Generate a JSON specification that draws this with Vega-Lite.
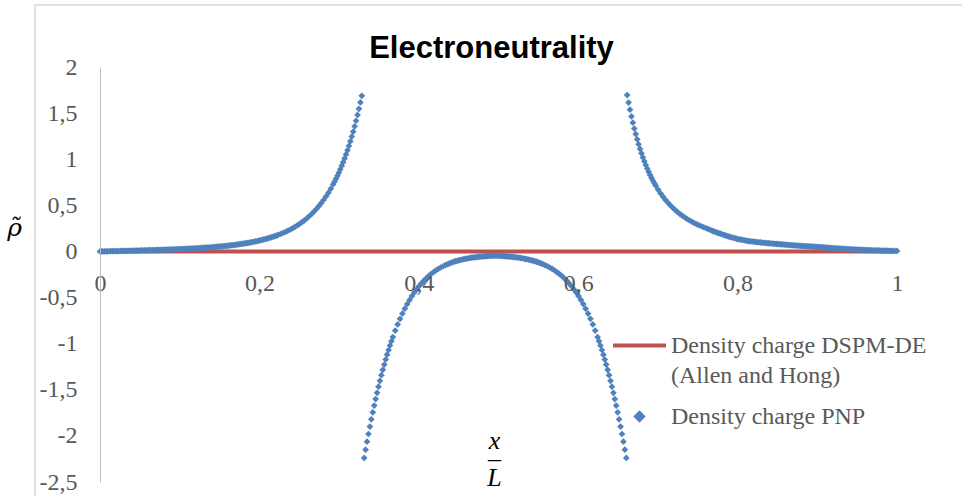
{
  "$schema": "https://vega.github.io/schema/vega-lite/v6.json",
  "autosize": {"type": "none"},
  "padding": {"left": 100, "top": 67, "right": 65, "bottom": 14},
  "width": 797,
  "height": 415,
  "background": "#ffffff",
  "title": {
    "text": "Electroneutrality",
    "font": "Liberation Sans",
    "fontSize": 31,
    "fontWeight": "bold",
    "color": "#000000",
    "anchor": "middle",
    "frame": "group",
    "baseline": "alphabetic",
    "offset": -85,
    "dx": -7
  },
  "datasets": {
    "dspm": [
      {"x": 0, "rho": 0},
      {"x": 1, "rho": 0}
    ],
    "pnp": [
      {"x": 0, "rho": 0}, {"x": 0.0018, "rho": 0.0002}, {"x": 0.0035, "rho": 0.0004}, {"x": 0.0055, "rho": 0.0008}, {"x": 0.0075, "rho": 0.0012},
      {"x": 0.0095, "rho": 0.0016}, {"x": 0.0115, "rho": 0.002}, {"x": 0.0135, "rho": 0.0024}, {"x": 0.0155, "rho": 0.0028}, {"x": 0.0175, "rho": 0.0032},
      {"x": 0.0195, "rho": 0.0036}, {"x": 0.0215, "rho": 0.004}, {"x": 0.0235, "rho": 0.0044}, {"x": 0.0255, "rho": 0.0049}, {"x": 0.0275, "rho": 0.0053},
      {"x": 0.0295, "rho": 0.0057}, {"x": 0.0315, "rho": 0.0061}, {"x": 0.0335, "rho": 0.0066}, {"x": 0.0355, "rho": 0.007}, {"x": 0.0375, "rho": 0.0075},
      {"x": 0.0395, "rho": 0.0079}, {"x": 0.0415, "rho": 0.0084}, {"x": 0.0435, "rho": 0.0088}, {"x": 0.0455, "rho": 0.0093}, {"x": 0.0475, "rho": 0.0097},
      {"x": 0.0495, "rho": 0.0102}, {"x": 0.0515, "rho": 0.0107}, {"x": 0.0535, "rho": 0.0112}, {"x": 0.0555, "rho": 0.0116}, {"x": 0.0575, "rho": 0.0121},
      {"x": 0.0595, "rho": 0.0126}, {"x": 0.0615, "rho": 0.0132}, {"x": 0.0635, "rho": 0.0137}, {"x": 0.0655, "rho": 0.0143}, {"x": 0.0675, "rho": 0.0148},
      {"x": 0.0695, "rho": 0.0154}, {"x": 0.0715, "rho": 0.0159}, {"x": 0.0735, "rho": 0.0165}, {"x": 0.0755, "rho": 0.017}, {"x": 0.0775, "rho": 0.0176},
      {"x": 0.0795, "rho": 0.0182}, {"x": 0.0815, "rho": 0.0189}, {"x": 0.0835, "rho": 0.0195}, {"x": 0.0855, "rho": 0.0202}, {"x": 0.0875, "rho": 0.0208},
      {"x": 0.0895, "rho": 0.0215}, {"x": 0.0915, "rho": 0.0221}, {"x": 0.0935, "rho": 0.0229}, {"x": 0.0955, "rho": 0.0236}, {"x": 0.0975, "rho": 0.0243},
      {"x": 0.0995, "rho": 0.025}, {"x": 0.1015, "rho": 0.0258}, {"x": 0.1035, "rho": 0.0266}, {"x": 0.1055, "rho": 0.0275}, {"x": 0.1075, "rho": 0.0283},
      {"x": 0.1095, "rho": 0.0292}, {"x": 0.1115, "rho": 0.03}, {"x": 0.1135, "rho": 0.0309}, {"x": 0.1155, "rho": 0.0318}, {"x": 0.1175, "rho": 0.0328},
      {"x": 0.1195, "rho": 0.0338}, {"x": 0.1215, "rho": 0.0348}, {"x": 0.1235, "rho": 0.0358}, {"x": 0.1255, "rho": 0.0369}, {"x": 0.1275, "rho": 0.038},
      {"x": 0.1295, "rho": 0.0392}, {"x": 0.1315, "rho": 0.0403}, {"x": 0.1335, "rho": 0.0416}, {"x": 0.1355, "rho": 0.0428}, {"x": 0.1375, "rho": 0.0441},
      {"x": 0.1395, "rho": 0.0454}, {"x": 0.1415, "rho": 0.0468}, {"x": 0.1435, "rho": 0.0482}, {"x": 0.1455, "rho": 0.0497}, {"x": 0.1475, "rho": 0.0512},
      {"x": 0.1495, "rho": 0.0528}, {"x": 0.1515, "rho": 0.0543}, {"x": 0.1535, "rho": 0.056}, {"x": 0.1555, "rho": 0.0577}, {"x": 0.1575, "rho": 0.0596},
      {"x": 0.1595, "rho": 0.0614}, {"x": 0.1615, "rho": 0.0634}, {"x": 0.1635, "rho": 0.0653}, {"x": 0.1655, "rho": 0.0674}, {"x": 0.1675, "rho": 0.0695},
      {"x": 0.1695, "rho": 0.0718}, {"x": 0.1715, "rho": 0.074}, {"x": 0.1735, "rho": 0.0764}, {"x": 0.1755, "rho": 0.0788}, {"x": 0.1775, "rho": 0.0814},
      {"x": 0.1795, "rho": 0.0841}, {"x": 0.1815, "rho": 0.0869}, {"x": 0.1835, "rho": 0.0897}, {"x": 0.1855, "rho": 0.0927}, {"x": 0.1875, "rho": 0.0958},
      {"x": 0.1895, "rho": 0.099}, {"x": 0.1915, "rho": 0.1023}, {"x": 0.1935, "rho": 0.1058}, {"x": 0.1955, "rho": 0.1094}, {"x": 0.1975, "rho": 0.1132},
      {"x": 0.1995, "rho": 0.1171}, {"x": 0.2015, "rho": 0.1212}, {"x": 0.2035, "rho": 0.1254}, {"x": 0.2055, "rho": 0.1298}, {"x": 0.2075, "rho": 0.1344},
      {"x": 0.2095, "rho": 0.1392}, {"x": 0.2115, "rho": 0.1442}, {"x": 0.2135, "rho": 0.1494}, {"x": 0.2155, "rho": 0.1548}, {"x": 0.2175, "rho": 0.1605},
      {"x": 0.2195, "rho": 0.1664}, {"x": 0.2215, "rho": 0.1726}, {"x": 0.2235, "rho": 0.179}, {"x": 0.2265, "rho": 0.1891}, {"x": 0.2295, "rho": 0.1999},
      {"x": 0.2325, "rho": 0.2115}, {"x": 0.2355, "rho": 0.2238}, {"x": 0.2385, "rho": 0.237}, {"x": 0.2415, "rho": 0.2511}, {"x": 0.2445, "rho": 0.2662},
      {"x": 0.2475, "rho": 0.2823}, {"x": 0.2505, "rho": 0.2996}, {"x": 0.2535, "rho": 0.318}, {"x": 0.2565, "rho": 0.3378}, {"x": 0.2595, "rho": 0.359},
      {"x": 0.2625, "rho": 0.3817}, {"x": 0.2655, "rho": 0.4061}, {"x": 0.2685, "rho": 0.4323}, {"x": 0.2715, "rho": 0.4604}, {"x": 0.2745, "rho": 0.4906},
      {"x": 0.2775, "rho": 0.5231}, {"x": 0.2805, "rho": 0.558}, {"x": 0.2835, "rho": 0.5956}, {"x": 0.2865, "rho": 0.636}, {"x": 0.2895, "rho": 0.6795},
      {"x": 0.2925, "rho": 0.7265}, {"x": 0.2943, "rho": 0.7563}, {"x": 0.2961, "rho": 0.7876}, {"x": 0.2979, "rho": 0.8203}, {"x": 0.2997, "rho": 0.8546},
      {"x": 0.3015, "rho": 0.8904}, {"x": 0.3033, "rho": 0.9279}, {"x": 0.3051, "rho": 0.9672}, {"x": 0.3069, "rho": 1.0084}, {"x": 0.3087, "rho": 1.0515},
      {"x": 0.3105, "rho": 1.0967}, {"x": 0.3123, "rho": 1.144}, {"x": 0.3141, "rho": 1.1936}, {"x": 0.3159, "rho": 1.2456}, {"x": 0.3177, "rho": 1.3001},
      {"x": 0.3195, "rho": 1.3573}, {"x": 0.3213, "rho": 1.4172}, {"x": 0.3231, "rho": 1.4801}, {"x": 0.3249, "rho": 1.5461}, {"x": 0.3267, "rho": 1.6153},
      {"x": 0.3285, "rho": 1.688},

      {"x": 0.33145, "rho": -2.2389}, {"x": 0.33325, "rho": -2.1496}, {"x": 0.33505, "rho": -2.0632}, {"x": 0.33685, "rho": -1.9795}, {"x": 0.33865, "rho": -1.8985},
      {"x": 0.34045, "rho": -1.8202}, {"x": 0.34225, "rho": -1.7445}, {"x": 0.34405, "rho": -1.6714}, {"x": 0.34585, "rho": -1.6007}, {"x": 0.34765, "rho": -1.5325},
      {"x": 0.34945, "rho": -1.4667}, {"x": 0.35125, "rho": -1.4032}, {"x": 0.35305, "rho": -1.342}, {"x": 0.35485, "rho": -1.2831}, {"x": 0.35665, "rho": -1.2264},
      {"x": 0.35845, "rho": -1.1717}, {"x": 0.36025, "rho": -1.1192}, {"x": 0.36205, "rho": -1.0686}, {"x": 0.36385, "rho": -1.02}, {"x": 0.36565, "rho": -0.9734},
      {"x": 0.36745, "rho": -0.9286}, {"x": 0.37045, "rho": -0.8578}, {"x": 0.37345, "rho": -0.7919}, {"x": 0.37645, "rho": -0.7304}, {"x": 0.37945, "rho": -0.6733},
      {"x": 0.38245, "rho": -0.6202}, {"x": 0.38545, "rho": -0.5709}, {"x": 0.38845, "rho": -0.5252}, {"x": 0.39145, "rho": -0.4829}, {"x": 0.39445, "rho": -0.4438},
      {"x": 0.39745, "rho": -0.4077}, {"x": 0.40045, "rho": -0.3745}, {"x": 0.40345, "rho": -0.3438}, {"x": 0.40645, "rho": -0.3156}, {"x": 0.40945, "rho": -0.2897},
      {"x": 0.41245, "rho": -0.266}, {"x": 0.41545, "rho": -0.2442}, {"x": 0.41845, "rho": -0.2243}, {"x": 0.42145, "rho": -0.2061}, {"x": 0.42445, "rho": -0.1895},
      {"x": 0.42745, "rho": -0.1743}, {"x": 0.43045, "rho": -0.1605}, {"x": 0.43345, "rho": -0.1479}, {"x": 0.43645, "rho": -0.1365}, {"x": 0.43845, "rho": -0.1295},
      {"x": 0.44045, "rho": -0.1229}, {"x": 0.44245, "rho": -0.1168}, {"x": 0.44445, "rho": -0.111}, {"x": 0.44645, "rho": -0.1056}, {"x": 0.44845, "rho": -0.1006},
      {"x": 0.45045, "rho": -0.0959}, {"x": 0.45245, "rho": -0.0915}, {"x": 0.45445, "rho": -0.0874}, {"x": 0.45645, "rho": -0.0836}, {"x": 0.45845, "rho": -0.08},
      {"x": 0.46045, "rho": -0.0767}, {"x": 0.46245, "rho": -0.0736}, {"x": 0.46445, "rho": -0.0708}, {"x": 0.46645, "rho": -0.0681}, {"x": 0.46845, "rho": -0.0656},
      {"x": 0.47045, "rho": -0.0633}, {"x": 0.47245, "rho": -0.0611}, {"x": 0.47445, "rho": -0.0591}, {"x": 0.47645, "rho": -0.0573}, {"x": 0.47845, "rho": -0.0556},
      {"x": 0.48045, "rho": -0.054}, {"x": 0.48245, "rho": -0.0525}, {"x": 0.48445, "rho": -0.0512}, {"x": 0.48645, "rho": -0.0499}, {"x": 0.48845, "rho": -0.0487},
      {"x": 0.49045, "rho": -0.0477}, {"x": 0.49245, "rho": -0.0467}, {"x": 0.49418, "rho": -0.0459}, {"x": 0.4959, "rho": -0.0451}, {"x": 0.49763, "rho": -0.0459},
      {"x": 0.49935, "rho": -0.0467}, {"x": 0.50135, "rho": -0.0477}, {"x": 0.50335, "rho": -0.0487}, {"x": 0.50535, "rho": -0.0499}, {"x": 0.50735, "rho": -0.0512},
      {"x": 0.50935, "rho": -0.0525}, {"x": 0.51135, "rho": -0.054}, {"x": 0.51335, "rho": -0.0556}, {"x": 0.51535, "rho": -0.0573}, {"x": 0.51735, "rho": -0.0591},
      {"x": 0.51935, "rho": -0.0611}, {"x": 0.52135, "rho": -0.0633}, {"x": 0.52335, "rho": -0.0656}, {"x": 0.52535, "rho": -0.0681}, {"x": 0.52735, "rho": -0.0708},
      {"x": 0.52935, "rho": -0.0736}, {"x": 0.53135, "rho": -0.0767}, {"x": 0.53335, "rho": -0.08}, {"x": 0.53535, "rho": -0.0836}, {"x": 0.53735, "rho": -0.0874},
      {"x": 0.53935, "rho": -0.0915}, {"x": 0.54135, "rho": -0.0959}, {"x": 0.54335, "rho": -0.1006}, {"x": 0.54535, "rho": -0.1056}, {"x": 0.54735, "rho": -0.111},
      {"x": 0.54935, "rho": -0.1168}, {"x": 0.55135, "rho": -0.1229}, {"x": 0.55335, "rho": -0.1295}, {"x": 0.55535, "rho": -0.1365}, {"x": 0.55835, "rho": -0.1479},
      {"x": 0.56135, "rho": -0.1605}, {"x": 0.56435, "rho": -0.1743}, {"x": 0.56735, "rho": -0.1895}, {"x": 0.57035, "rho": -0.2061}, {"x": 0.57335, "rho": -0.2243},
      {"x": 0.57635, "rho": -0.2442}, {"x": 0.57935, "rho": -0.266}, {"x": 0.58235, "rho": -0.2897}, {"x": 0.58535, "rho": -0.3156}, {"x": 0.58835, "rho": -0.3438},
      {"x": 0.59135, "rho": -0.3745}, {"x": 0.59435, "rho": -0.4077}, {"x": 0.59735, "rho": -0.4438}, {"x": 0.60035, "rho": -0.4829}, {"x": 0.60335, "rho": -0.5252},
      {"x": 0.60635, "rho": -0.5709}, {"x": 0.60935, "rho": -0.6202}, {"x": 0.61235, "rho": -0.6733}, {"x": 0.61535, "rho": -0.7304}, {"x": 0.61835, "rho": -0.7919},
      {"x": 0.62135, "rho": -0.8578}, {"x": 0.62435, "rho": -0.9286}, {"x": 0.62615, "rho": -0.9734}, {"x": 0.62795, "rho": -1.02}, {"x": 0.62975, "rho": -1.0686},
      {"x": 0.63155, "rho": -1.1192}, {"x": 0.63335, "rho": -1.1717}, {"x": 0.63515, "rho": -1.2264}, {"x": 0.63695, "rho": -1.2831}, {"x": 0.63875, "rho": -1.342},
      {"x": 0.64055, "rho": -1.4032}, {"x": 0.64235, "rho": -1.4667}, {"x": 0.64415, "rho": -1.5325}, {"x": 0.64595, "rho": -1.6007}, {"x": 0.64775, "rho": -1.6714},
      {"x": 0.64955, "rho": -1.7445}, {"x": 0.65135, "rho": -1.8202}, {"x": 0.65315, "rho": -1.8985}, {"x": 0.65495, "rho": -1.9795}, {"x": 0.65675, "rho": -2.0632},
      {"x": 0.65855, "rho": -2.1496}, {"x": 0.66035, "rho": -2.2389},

      {"x": 0.6614, "rho": 1.696}, {"x": 0.6632, "rho": 1.6139}, {"x": 0.665, "rho": 1.5369}, {"x": 0.6668, "rho": 1.4645}, {"x": 0.6686, "rho": 1.3965},
      {"x": 0.6704, "rho": 1.3325}, {"x": 0.6722, "rho": 1.2723}, {"x": 0.674, "rho": 1.2156}, {"x": 0.6758, "rho": 1.1623}, {"x": 0.6776, "rho": 1.1119},
      {"x": 0.6794, "rho": 1.0644}, {"x": 0.6812, "rho": 1.0196}, {"x": 0.683, "rho": 0.9773}, {"x": 0.6848, "rho": 0.9373}, {"x": 0.6866, "rho": 0.8994},
      {"x": 0.6884, "rho": 0.8637}, {"x": 0.6902, "rho": 0.8298}, {"x": 0.692, "rho": 0.7977}, {"x": 0.6938, "rho": 0.7673}, {"x": 0.6956, "rho": 0.7384},
      {"x": 0.6974, "rho": 0.7111}, {"x": 0.7004, "rho": 0.6685}, {"x": 0.7034, "rho": 0.6294}, {"x": 0.7064, "rho": 0.5935}, {"x": 0.7094, "rho": 0.5603},
      {"x": 0.7124, "rho": 0.5298}, {"x": 0.7154, "rho": 0.5016}, {"x": 0.7184, "rho": 0.4755}, {"x": 0.7214, "rho": 0.4513}, {"x": 0.7244, "rho": 0.4289},
      {"x": 0.7274, "rho": 0.408}, {"x": 0.7304, "rho": 0.3887}, {"x": 0.7334, "rho": 0.3706}, {"x": 0.7364, "rho": 0.3538}, {"x": 0.7394, "rho": 0.3381},
      {"x": 0.7424, "rho": 0.3234}, {"x": 0.7454, "rho": 0.3096}, {"x": 0.7484, "rho": 0.2967}, {"x": 0.7514, "rho": 0.2846}, {"x": 0.7544, "rho": 0.2732},
      {"x": 0.7574, "rho": 0.2625}, {"x": 0.7604, "rho": 0.2524}, {"x": 0.7634, "rho": 0.2412}, {"x": 0.7664, "rho": 0.2306}, {"x": 0.7684, "rho": 0.2238},
      {"x": 0.7704, "rho": 0.217}, {"x": 0.7724, "rho": 0.2106}, {"x": 0.7744, "rho": 0.2043}, {"x": 0.7764, "rho": 0.1983}, {"x": 0.7784, "rho": 0.1924},
      {"x": 0.7804, "rho": 0.1864}, {"x": 0.7824, "rho": 0.1806}, {"x": 0.7844, "rho": 0.1749}, {"x": 0.7864, "rho": 0.1694}, {"x": 0.7884, "rho": 0.164},
      {"x": 0.7904, "rho": 0.1587}, {"x": 0.7924, "rho": 0.1536}, {"x": 0.7944, "rho": 0.1485}, {"x": 0.7964, "rho": 0.1436}, {"x": 0.7984, "rho": 0.1387},
      {"x": 0.8004, "rho": 0.1343}, {"x": 0.8024, "rho": 0.1309}, {"x": 0.8044, "rho": 0.1276}, {"x": 0.8064, "rho": 0.1244}, {"x": 0.8084, "rho": 0.1213},
      {"x": 0.8104, "rho": 0.1183}, {"x": 0.8124, "rho": 0.1153}, {"x": 0.8144, "rho": 0.1124}, {"x": 0.8164, "rho": 0.11}, {"x": 0.8184, "rho": 0.1079},
      {"x": 0.8204, "rho": 0.1058}, {"x": 0.8224, "rho": 0.1037}, {"x": 0.8244, "rho": 0.1017}, {"x": 0.8264, "rho": 0.0999}, {"x": 0.8284, "rho": 0.098},
      {"x": 0.8304, "rho": 0.0961}, {"x": 0.8324, "rho": 0.0943}, {"x": 0.8344, "rho": 0.0926}, {"x": 0.8364, "rho": 0.0909}, {"x": 0.8384, "rho": 0.0892},
      {"x": 0.8404, "rho": 0.0877}, {"x": 0.8424, "rho": 0.0861}, {"x": 0.8444, "rho": 0.0845}, {"x": 0.8464, "rho": 0.0829}, {"x": 0.8484, "rho": 0.0815},
      {"x": 0.8504, "rho": 0.08}, {"x": 0.8524, "rho": 0.0785}, {"x": 0.8544, "rho": 0.077}, {"x": 0.8564, "rho": 0.0756}, {"x": 0.8584, "rho": 0.0741},
      {"x": 0.8604, "rho": 0.0727}, {"x": 0.8624, "rho": 0.0713}, {"x": 0.8644, "rho": 0.0699}, {"x": 0.8664, "rho": 0.0687}, {"x": 0.8684, "rho": 0.0673},
      {"x": 0.8704, "rho": 0.066}, {"x": 0.8724, "rho": 0.0647}, {"x": 0.8744, "rho": 0.0635}, {"x": 0.8764, "rho": 0.0623}, {"x": 0.8784, "rho": 0.0611},
      {"x": 0.8804, "rho": 0.0599}, {"x": 0.8824, "rho": 0.0588}, {"x": 0.8844, "rho": 0.0576}, {"x": 0.8864, "rho": 0.0566}, {"x": 0.8884, "rho": 0.0555},
      {"x": 0.8904, "rho": 0.0544}, {"x": 0.8924, "rho": 0.0533}, {"x": 0.8944, "rho": 0.0523}, {"x": 0.8964, "rho": 0.0514}, {"x": 0.8984, "rho": 0.0504},
      {"x": 0.9004, "rho": 0.0493}, {"x": 0.9024, "rho": 0.0479}, {"x": 0.9044, "rho": 0.0464}, {"x": 0.9064, "rho": 0.045}, {"x": 0.9084, "rho": 0.0436},
      {"x": 0.9104, "rho": 0.0423}, {"x": 0.9124, "rho": 0.0409}, {"x": 0.9144, "rho": 0.0396}, {"x": 0.9164, "rho": 0.0383}, {"x": 0.9184, "rho": 0.037},
      {"x": 0.9204, "rho": 0.0358}, {"x": 0.9224, "rho": 0.0346}, {"x": 0.9244, "rho": 0.0334}, {"x": 0.9264, "rho": 0.0322}, {"x": 0.9284, "rho": 0.031},
      {"x": 0.9304, "rho": 0.0299}, {"x": 0.9324, "rho": 0.0288}, {"x": 0.9344, "rho": 0.0277}, {"x": 0.9364, "rho": 0.0266}, {"x": 0.9384, "rho": 0.0256},
      {"x": 0.9404, "rho": 0.0246}, {"x": 0.9424, "rho": 0.0236}, {"x": 0.9444, "rho": 0.0226}, {"x": 0.9464, "rho": 0.0217}, {"x": 0.9484, "rho": 0.0208},
      {"x": 0.9504, "rho": 0.0199}, {"x": 0.9524, "rho": 0.019}, {"x": 0.9544, "rho": 0.0182}, {"x": 0.9564, "rho": 0.0174}, {"x": 0.9584, "rho": 0.0166},
      {"x": 0.9604, "rho": 0.0158}, {"x": 0.9624, "rho": 0.0151}, {"x": 0.9644, "rho": 0.0144}, {"x": 0.9664, "rho": 0.0137}, {"x": 0.9684, "rho": 0.013},
      {"x": 0.9704, "rho": 0.0124}, {"x": 0.9724, "rho": 0.0117}, {"x": 0.9744, "rho": 0.0111}, {"x": 0.9764, "rho": 0.0105}, {"x": 0.9784, "rho": 0.01},
      {"x": 0.9804, "rho": 0.0094}, {"x": 0.9824, "rho": 0.0089}, {"x": 0.9844, "rho": 0.0084}, {"x": 0.9864, "rho": 0.008}, {"x": 0.9884, "rho": 0.0075},
      {"x": 0.9904, "rho": 0.0071}, {"x": 0.9924, "rho": 0.0066}, {"x": 0.9944, "rho": 0.0062}, {"x": 0.9972, "rho": 0.0057}, {"x": 1, "rho": 0.0052}
    ]
  },
  "layer": [
    {
      "description": "chart-area frame, drawn in data units so that its right and bottom edges fall outside the canvas",
      "data": {"values": [{}]},
      "mark": {"type": "rect", "fill": "transparent", "stroke": "#D9D9D9", "strokeWidth": 1.5},
      "encoding": {
        "x": {"datum": -0.0816, "type": "quantitative", "scale": {"domain": [0, 1], "nice": false, "zero": false}},
        "x2": {"datum": 1.3},
        "y": {"datum": 2.672, "type": "quantitative", "scale": {"domain": [-2.5, 2], "nice": false, "zero": false}},
        "y2": {"datum": -3.5}
      }
    },
    {
      "data": {"name": "dspm"},
      "mark": {"type": "line", "strokeWidth": 4},
      "encoding": {
        "x": {
          "field": "x", "type": "quantitative",
          "scale": {"domain": [0, 1], "nice": false, "zero": false},
          "axis": {
            "values": [0, 0.2, 0.4, 0.6, 0.8, 1],
            "labelExpr": "replace(toString(datum.value), '.', ',')",
            "offset": -230.56,
            "domain": false,
            "ticks": false,
            "tickSize": 0,
            "grid": false,
            "zindex": 1,
            "labelFlush": false,
            "labelOverlap": false,
            "labelPadding": 20,
            "labelFont": "Liberation Serif",
            "labelFontSize": 24,
            "labelColor": "#595959",
            "title": ["x", "\u2013", "L"],
            "titleFont": "Liberation Serif",
            "titleFontSize": 26,
            "titleFontStyle": "italic",
            "titleFontWeight": "normal",
            "titleColor": "#000000",
            "titleAlign": "center",
            "titleBaseline": "alphabetic",
            "titleLineHeight": 18.5,
            "titleX": 394,
            "titleY": 196.6
          }
        },
        "y": {
          "field": "rho", "type": "quantitative",
          "scale": {"domain": [-2.5, 2], "nice": false, "zero": false},
          "axis": {
            "values": [-2.5, -2, -1.5, -1, -0.5, 0, 0.5, 1, 1.5, 2],
            "labelExpr": "replace(toString(datum.value), '.', ',')",
            "domain": true,
            "domainColor": "#BFBFBF",
            "domainWidth": 1,
            "ticks": false,
            "tickSize": 0,
            "grid": false,
            "zindex": 1,
            "labelFlush": false,
            "labelOverlap": false,
            "labelPadding": 23,
            "labelFont": "Liberation Serif",
            "labelFontSize": 24,
            "labelColor": "#595959",
            "title": "\u03c1\u0303",
            "titleAngle": 0,
            "titleFont": "DejaVu Serif",
            "titleFontSize": 25,
            "titleFontStyle": "italic",
            "titleFontWeight": "normal",
            "titleColor": "#000000",
            "titleAlign": "center",
            "titleBaseline": "alphabetic",
            "titleX": -86,
            "titleY": 168
          }
        },
        "color": {
          "datum": "Density charge DSPM-DE (Allen and Hong)",
          "type": "nominal",
          "scale": {
            "domain": ["Density charge DSPM-DE (Allen and Hong)", "Density charge PNP"],
            "range": ["#C0504D", "#4F81BD"]
          },
          "legend": {
            "orient": "none",
            "legendX": 511,
            "legendY": 250,
            "title": null,
            "padding": 0,
            "rowPadding": -13,
            "symbolType": "stroke",
            "symbolSize": 2809,
            "symbolStrokeWidth": 4,
            "labelFont": "Liberation Serif",
            "labelFontSize": 24,
            "labelColor": "#595959",
            "labelLimit": 0,
            "labelOffset": 3,
            "labelBaseline": "alphabetic",
            "labelExpr": "datum.label === 'Density charge DSPM-DE (Allen and Hong)' ? ['Density charge DSPM-DE', '(Allen and Hong)'] : datum.label",
            "encoding": {
              "symbols": {
                "shape": {"value": {"expr": "datum.value === 'Density charge PNP' ? 'diamond' : 'stroke'"}},
                "size": {"value": {"expr": "datum.value === 'Density charge PNP' ? 45 : 2809"}},
                "fill": {"value": {"expr": "datum.value === 'Density charge PNP' ? '#4F81BD' : 'transparent'"}},
                "stroke": {"value": {"expr": "datum.value === 'Density charge PNP' ? 'transparent' : '#C0504D'"}},
                "strokeWidth": {"value": 4},
                "opacity": {"value": 1}
              },
              "labels": {
                "dy": {"value": 7},
                "lineHeight": {"value": 30}
              }
            }
          }
        }
      }
    },
    {
      "data": {"name": "pnp"},
      "mark": {"type": "point", "shape": "diamond", "filled": true, "size": 45, "opacity": 1, "strokeWidth": 0},
      "encoding": {
        "x": {"field": "x", "type": "quantitative", "scale": {"domain": [0, 1], "nice": false, "zero": false}},
        "y": {"field": "rho", "type": "quantitative", "scale": {"domain": [-2.5, 2], "nice": false, "zero": false}},
        "color": {"datum": "Density charge PNP", "type": "nominal"}
      }
    }
  ],
  "config": {
    "view": {"stroke": null}
  }
}
